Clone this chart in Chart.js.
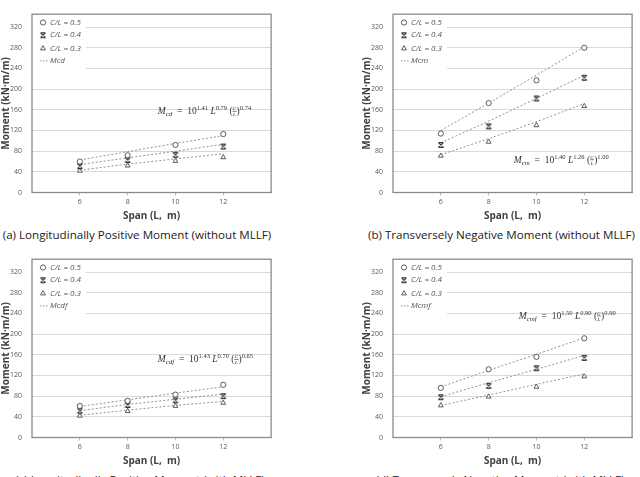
<!DOCTYPE html>
<html>
<head>
<meta charset="utf-8">
<script src="https://cdn.jsdelivr.net/npm/chart.js@4.4.0/dist/chart.umd.min.js"></script>
<style>
    body { margin: 0; background: #fff; width: 640px; height: 477px; overflow: hidden; position: relative; font-family: 'Open Sans', sans-serif; }
    canvas { position: absolute; }
    .cap { position: absolute; font-size: 11.6px; line-height: 16px; color: #222; white-space: nowrap; text-align: center; }
</style>
</head>
<body>
<canvas id="chartA" width="276" height="225" style="left:0;top:0"></canvas>
<canvas id="chartB" width="276" height="225" style="left:361px;top:0"></canvas>
<canvas id="chartC" width="276" height="225" style="left:0;top:245px"></canvas>
<canvas id="chartD" width="276" height="225" style="left:361px;top:245px"></canvas>
<div class="cap" style="left:0;top:227px;width:274px">(a) Longitudinally Positive Moment (without MLLF)</div>
<div class="cap" style="left:368px;top:227px;width:266px">(b) Transversely Negative Moment (without MLLF)</div>
<div class="cap" style="left:0;top:472px;width:280px">(c) Longitudinally Positive Moment (with MLLF)</div>
<div class="cap" style="left:368px;top:472px;width:264px">(d) Transversely Negative Moment (with MLLF)</div>
<script>
// Span values (x axis)
const spans = [6, 8, 10, 12];
const ratioLabels = ['C/L = 0.5', 'C/L = 0.4', 'C/L = 0.3'];
const yTicks = [0, 40, 80, 120, 160, 200, 240, 280, 320];

// (a) Mcd
const aC05 = [60, 72, 92, 113];
const aC04 = [51, 63, 73, 89];
const aC03 = [42, 52, 61, 68];
const aFit05 = [63, 79, 95, 110];
const aFit04 = [54, 67, 80, 93];
const aFit03 = [43, 55, 65, 75];

// (b) Mcm
const bC05 = [114, 173, 217, 280];
const bC04 = [92, 128, 182, 222];
const bC03 = [71, 98, 130, 167];
const bFit05 = [120, 173, 227, 282];
const bFit04 = [96, 138, 182, 227];
const bFit03 = [73, 104, 137, 172];

// (c) Mcdf
const cC05 = [61, 71, 83, 102];
const cC04 = [52, 63, 72, 80];
const cC03 = [42, 51, 61, 67];
const cFit05 = [60, 73, 86, 98];
const cFit04 = [52, 64, 74, 84];
const cFit03 = [43, 53, 62, 70];

// (d) Mcmf
const dC05 = [96, 132, 156, 192];
const dC04 = [78, 100, 134, 154];
const dC03 = [62, 79, 98, 118];
const dFit05 = [98, 130, 161, 193];
const dFit04 = [79, 106, 132, 159];
const dFit03 = [62, 82, 103, 123];

const markerColor = '#4a4a4a';
const fitColor = '#777';

// star-ish marker (X with caps), like the Excel one
function makeStar() {
    const c = document.createElement('canvas');
    c.width = 8; c.height = 8;
    const g = c.getContext('2d');
    g.strokeStyle = '#333';
    g.lineWidth = 1.1;
    g.beginPath();
    g.moveTo(1.5, 1.5); g.lineTo(6.5, 1.5);
    g.moveTo(1.5, 6.5); g.lineTo(6.5, 6.5);
    g.moveTo(1.5, 1.5); g.lineTo(6.5, 6.5);
    g.moveTo(6.5, 1.5); g.lineTo(1.5, 6.5);
    g.stroke();
    return c;
}
const starImg = makeStar();

function pts(vals) {
    return spans.map((s, i) => ({ x: s, y: vals[i] }));
}

function drawEq(ctx, x, y, eq) {
    ctx.fillStyle = '#333';
    ctx.textBaseline = 'alphabetic';
    ctx.textAlign = 'left';
    const it = 'italic 9.5px "Liberation Serif"';
    const rg = '9.5px "Liberation Serif"';
    const sm = '6.5px "Liberation Serif"';
    const smi = 'italic 7px "Liberation Serif"';
    function put(t, font, dy) {
        ctx.font = font;
        ctx.fillText(t, x, y + (dy || 0));
        x += ctx.measureText(t).width;
    }
    put('M', it);
    put(eq.sub, smi, 2);
    put('  =  10', rg);
    put(eq.p1, sm, -4);
    put(' ', rg);
    put('L', it);
    put(eq.p2, sm, -4);
    put(' (', rg);
    ctx.font = 'italic 5px "Liberation Serif"';
    ctx.fillText('C', x, y - 4);
    ctx.fillText('L', x + 0.5, y + 2);
    ctx.fillRect(x, y - 3, 4, 0.6);
    x += 4;
    put(')', rg);
    put(eq.p3, sm, -4);
}

function panelPlugin(cfg) {
    return {
        id: 'panel' + cfg.fitName,
        beforeDatasetsDraw(chart) {
            const { ctx, chartArea: a } = chart;
            ctx.save();
            // legend box
            ctx.fillStyle = '#fff';
            ctx.fillRect(a.left + 1, a.top + 1, 53, 55);
            const rows = [8.3, 21, 34.3, 46.7];
            const styles = ['circle', starImg, 'triangle'];
            const radii = [2.6, 4, 2.8];
            ctx.textBaseline = 'middle';
            ctx.textAlign = 'left';
            for (let i = 0; i < 3; i++) {
                ctx.fillStyle = '#fff';
                ctx.strokeStyle = markerColor;
                ctx.lineWidth = 0.9;
                Chart.helpers.drawPoint(ctx, {
                    pointStyle: styles[i], radius: radii[i], borderWidth: 0.9
                }, a.left + 11, a.top + rows[i]);
                ctx.fillStyle = '#555';
                ctx.font = 'italic 8px "Open Sans"';
                ctx.fillText(ratioLabels[i], a.left + 18, a.top + rows[i]);
            }
            ctx.strokeStyle = fitColor;
            ctx.lineWidth = 0.8;
            ctx.setLineDash([1.5, 1.5]);
            ctx.beginPath();
            ctx.moveTo(a.left + 8, a.top + rows[3]);
            ctx.lineTo(a.left + 16, a.top + rows[3]);
            ctx.stroke();
            ctx.setLineDash([]);
            ctx.fillStyle = '#555';
            ctx.fillText(cfg.fitName, a.left + 18, a.top + rows[3]);
            ctx.restore();
        },
        afterDraw(chart) {
            const { ctx, chartArea: a, scales } = chart;
            ctx.save();
            ctx.strokeStyle = '#8a8a8a';
            ctx.lineWidth = 1.3;
            ctx.strokeRect(a.left, a.top, a.right - a.left, a.bottom - a.top);
            drawEq(ctx, scales.x.getPixelForValue(cfg.eq.x), scales.y.getPixelForValue(cfg.eq.y), cfg.eq);
            ctx.restore();
        }
    };
}

function makeChart(id, cfg) {
    const fits = [cfg.fit05, cfg.fit04, cfg.fit03].map(v => ({
        type: 'line',
        data: pts(v),
        borderColor: fitColor,
        borderWidth: 0.8,
        borderDash: [2, 2],
        pointRadius: 0,
        fill: false,
        order: 2
    }));
    const marks = [
        { data: pts(cfg.c05), pointStyle: 'circle', pointRadius: 2.6 },
        { data: pts(cfg.c04), pointStyle: starImg, pointRadius: 4 },
        { data: pts(cfg.c03), pointStyle: 'triangle', pointRadius: 2.8 }
    ].map(d => Object.assign(d, {
        type: 'scatter',
        backgroundColor: '#fff',
        borderColor: markerColor,
        pointBorderWidth: 0.9,
        order: 1
    }));

    return new Chart(document.getElementById(id), {
        type: 'scatter',
        data: { datasets: fits.concat(marks) },
        options: {
            responsive: false,
            animation: false,
            devicePixelRatio: 1,
            layout: { padding: { top: 9, right: 3, left: 0, bottom: 0 } },
            plugins: { legend: { display: false }, tooltip: { enabled: false } },
            scales: {
                x: {
                    type: 'linear',
                    min: 4,
                    max: 14,
                    afterBuildTicks: axis => { axis.ticks = spans.map(v => ({ value: v })); },
                    afterFit: axis => { axis.height = 32.5; },
                    grid: { drawOnChartArea: false, tickLength: 3, color: '#bbb' },
                    border: { color: '#8a8a8a' },
                    ticks: { color: '#595959', font: { family: 'Open Sans', size: 7 }, padding: 2, maxRotation: 0 },
                    title: {
                        display: true,
                        text: 'Span (L,  m)',
                        color: '#404040',
                        font: { family: 'Open Sans', size: 10, weight: 'bold' },
                        padding: { top: 0, bottom: 3 }
                    }
                },
                y: {
                    min: 0,
                    max: 345,
                    afterBuildTicks: axis => { axis.ticks = yTicks.map(v => ({ value: v })); },
                    afterFit: axis => { axis.width = 32; },
                    grid: { color: '#d9d9d9', lineWidth: 1, drawTicks: false },
                    border: { display: false },
                    ticks: { color: '#595959', font: { family: 'Open Sans', size: 7 }, padding: 10 },
                    title: {
                        display: true,
                        text: 'Moment (kN·m/m)',
                        color: '#404040',
                        font: { family: 'Open Sans', size: 10, weight: 'bold' },
                        padding: { top: 0, bottom: 0 }
                    }
                }
            }
        },
        plugins: [panelPlugin(cfg)]
    });
}

makeChart('chartA', {
    fitName: 'Mcd', c05: aC05, c04: aC04, c03: aC03, fit05: aFit05, fit04: aFit04, fit03: aFit03,
    eq: { sub: 'cd', p1: '1.41', p2: '0.79', p3: '0.74', x: 9.26, y: 152 }
});
makeChart('chartB', {
    fitName: 'Mcm', c05: bC05, c04: bC04, c03: bC03, fit05: bFit05, fit04: bFit04, fit03: bFit03,
    eq: { sub: 'cm', p1: '1.40', p2: '1.26', p3: '1.00', x: 9.05, y: 58 }
});
makeChart('chartC', {
    fitName: 'Mcdf', c05: cC05, c04: cC04, c03: cC03, fit05: cFit05, fit04: cFit04, fit03: cFit03,
    eq: { sub: 'cdf', p1: '1.43', p2: '0.70', p3: '0.65', x: 9.26, y: 146 }
});
makeChart('chartD', {
    fitName: 'Mcmf', c05: dC05, c04: dC04, c03: dC03, fit05: dFit05, fit04: dFit04, fit03: dFit03,
    eq: { sub: 'cmf', p1: '1.50', p2: '0.90', p3: '0.90', x: 9.26, y: 230 }
});
</script>
</body>
</html>
